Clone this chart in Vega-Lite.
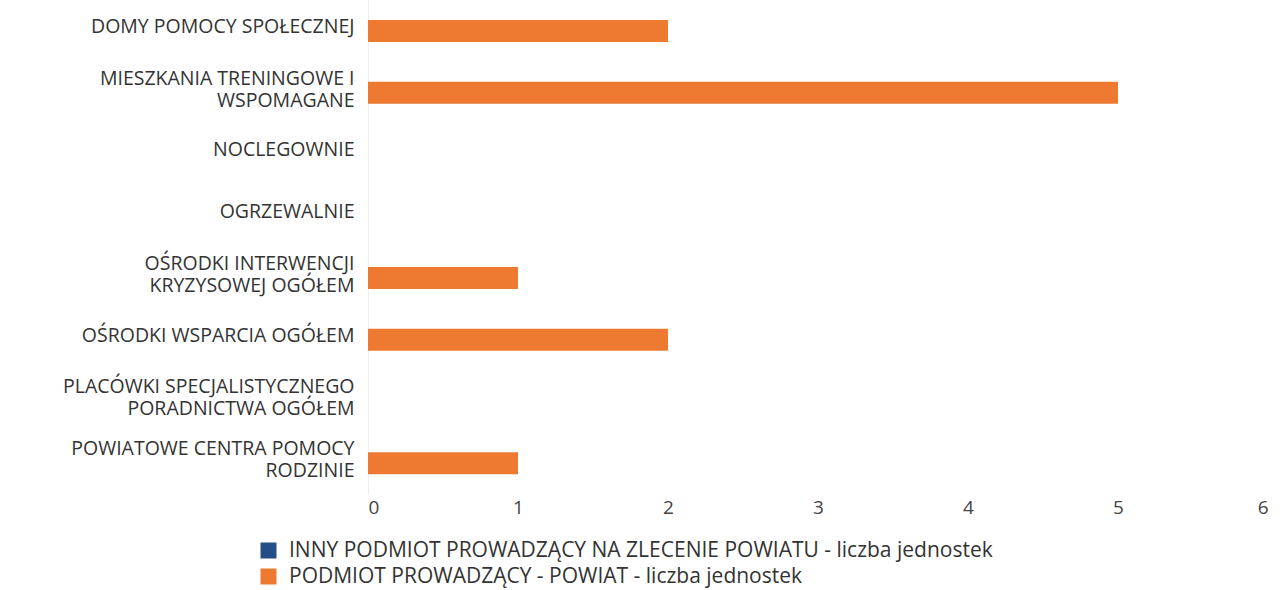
{
  "$schema": "https://vega.github.io/schema/vega-lite/v6.json",
  "width": 900,
  "height": 494,
  "autosize": {"type": "none"},
  "padding": {"left": 368, "top": 0, "right": 12, "bottom": 96},
  "background": "white",
  "config": {
    "font": "Open Sans",
    "view": {"stroke": null}
  },
  "data": {
    "values": [
      {"kategoria": "DOMY POMOCY SPOŁECZNEJ", "seria": "INNY PODMIOT PROWADZĄCY NA ZLECENIE POWIATU - liczba jednostek", "liczba": 0},
      {"kategoria": "MIESZKANIA TRENINGOWE I|WSPOMAGANE", "seria": "INNY PODMIOT PROWADZĄCY NA ZLECENIE POWIATU - liczba jednostek", "liczba": 0},
      {"kategoria": "NOCLEGOWNIE", "seria": "INNY PODMIOT PROWADZĄCY NA ZLECENIE POWIATU - liczba jednostek", "liczba": 0},
      {"kategoria": "OGRZEWALNIE", "seria": "INNY PODMIOT PROWADZĄCY NA ZLECENIE POWIATU - liczba jednostek", "liczba": 0},
      {"kategoria": "OŚRODKI INTERWENCJI|KRYZYSOWEJ OGÓŁEM", "seria": "INNY PODMIOT PROWADZĄCY NA ZLECENIE POWIATU - liczba jednostek", "liczba": 0},
      {"kategoria": "OŚRODKI WSPARCIA OGÓŁEM", "seria": "INNY PODMIOT PROWADZĄCY NA ZLECENIE POWIATU - liczba jednostek", "liczba": 0},
      {"kategoria": "PLACÓWKI SPECJALISTYCZNEGO|PORADNICTWA OGÓŁEM", "seria": "INNY PODMIOT PROWADZĄCY NA ZLECENIE POWIATU - liczba jednostek", "liczba": 0},
      {"kategoria": "POWIATOWE CENTRA POMOCY|RODZINIE", "seria": "INNY PODMIOT PROWADZĄCY NA ZLECENIE POWIATU - liczba jednostek", "liczba": 0},
      {"kategoria": "DOMY POMOCY SPOŁECZNEJ", "seria": "PODMIOT PROWADZĄCY - POWIAT - liczba jednostek", "liczba": 2},
      {"kategoria": "MIESZKANIA TRENINGOWE I|WSPOMAGANE", "seria": "PODMIOT PROWADZĄCY - POWIAT - liczba jednostek", "liczba": 5},
      {"kategoria": "NOCLEGOWNIE", "seria": "PODMIOT PROWADZĄCY - POWIAT - liczba jednostek", "liczba": 0},
      {"kategoria": "OGRZEWALNIE", "seria": "PODMIOT PROWADZĄCY - POWIAT - liczba jednostek", "liczba": 0},
      {"kategoria": "OŚRODKI INTERWENCJI|KRYZYSOWEJ OGÓŁEM", "seria": "PODMIOT PROWADZĄCY - POWIAT - liczba jednostek", "liczba": 1},
      {"kategoria": "OŚRODKI WSPARCIA OGÓŁEM", "seria": "PODMIOT PROWADZĄCY - POWIAT - liczba jednostek", "liczba": 2},
      {"kategoria": "PLACÓWKI SPECJALISTYCZNEGO|PORADNICTWA OGÓŁEM", "seria": "PODMIOT PROWADZĄCY - POWIAT - liczba jednostek", "liczba": 0},
      {"kategoria": "POWIATOWE CENTRA POMOCY|RODZINIE", "seria": "PODMIOT PROWADZĄCY - POWIAT - liczba jednostek", "liczba": 1}
    ]
  },
  "mark": {"type": "bar", "size": 22},
  "encoding": {
    "y": {
      "field": "kategoria",
      "type": "nominal",
      "sort": null,
      "title": null,
      "scale": {"paddingOuter": 0, "paddingInner": 0},
      "axis": {
        "labelExpr": "split(datum.label, '|')",
        "labelFont": "Open Sans",
        "labelFontSize": 19.5,
        "labelColor": "#333333",
        "labelLineHeight": 22,
        "labelPadding": 14,
        "labelLimit": 400,
        "labelOffset": {"condition": {"test": "indexof(datum.value, '|') >= 0", "value": -14}, "value": -4},
        "ticks": false,
        "domain": true,
        "domainColor": "#eeeeee",
        "grid": false
      }
    },
    "x": {
      "field": "liczba",
      "type": "quantitative",
      "stack": null,
      "title": null,
      "scale": {"domain": [0, 6], "nice": false},
      "axis": {
        "values": [0, 1, 2, 3, 4, 5, 6],
        "labelFont": "Open Sans",
        "labelFontSize": 19,
        "labelColor": "#444444",
        "labelPadding": 4,
        "ticks": false,
        "domain": false,
        "grid": false
      }
    },
    "color": {
      "field": "seria",
      "type": "nominal",
      "scale": {
        "domain": ["INNY PODMIOT PROWADZĄCY NA ZLECENIE POWIATU - liczba jednostek", "PODMIOT PROWADZĄCY - POWIAT - liczba jednostek"],
        "range": ["#264E86", "#ED7A30"]
      },
      "legend": {
        "title": null,
        "orient": "none",
        "legendX": -110,
        "legendY": 540,
        "direction": "vertical",
        "symbolType": "square",
        "symbolSize": 256,
        "symbolStrokeWidth": 0,
        "labelFont": "Open Sans",
        "labelFontSize": 21,
        "labelColor": "#333333",
        "labelLimit": 900,
        "labelOffset": 10,
        "rowPadding": 4
      }
    }
  }
}
